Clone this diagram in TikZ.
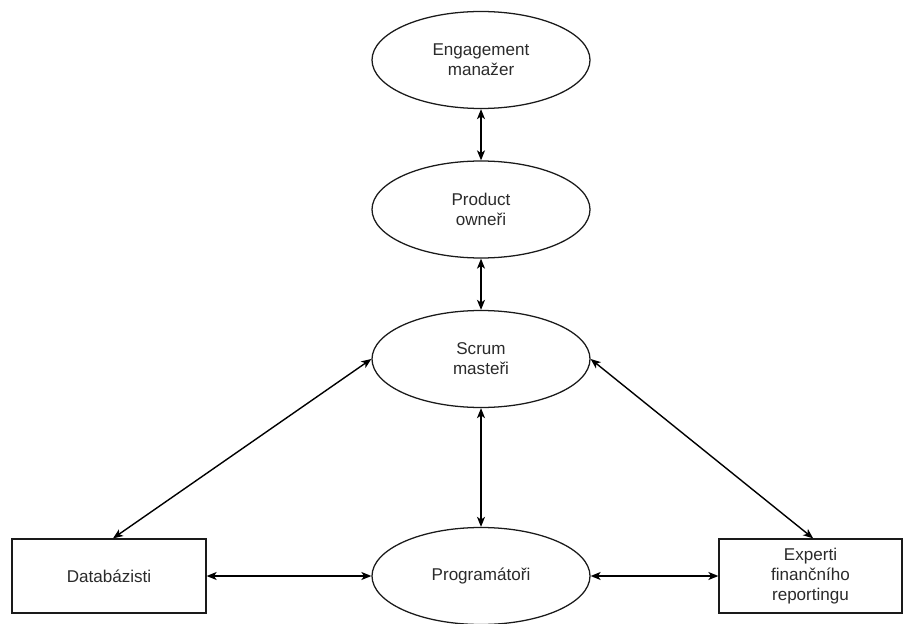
\documentclass[tikz,border=0pt]{standalone}
\usepackage{fontspec}
\setmainfont{Liberation Sans}
\usetikzlibrary{shapes.geometric,arrows.meta}
\definecolor{inkline}{HTML}{1A1A1A}
\definecolor{inktext}{HTML}{2B2B2B}
\tikzset{
  role/.style={ellipse,draw=inkline,line width=0.95pt,minimum width=163.5pt,minimum height=72.75pt,
    inner sep=0pt,align=center,text=inktext,font=\fontsize{12.8pt}{15pt}\selectfont},
  team/.style={rectangle,draw=inkline,line width=0.95pt,inner sep=0pt,align=center,
    text=inktext,font=\fontsize{12.8pt}{15pt}\selectfont},
  link/.style={line width=1.05pt,draw=black,
    {Stealth[length=7.5pt,width=6pt,inset=2pt]}-{Stealth[length=7.5pt,width=6pt,inset=2pt]}}
}
\begin{document}
\begin{tikzpicture}[x=0.75pt,y=-0.75pt]
  \useasboundingbox (0,0) rectangle (903,624);
  \fill[white] (0,0) rectangle (903,624);
  \begin{scope}
    \clip (0,0) rectangle (903,624);
    \node[role] (em) at (481,60)    {Engagement\\manažer};
    \node[role] (po) at (481,209.5) {Product\\owneři};
    \node[role] (sm) at (481,359)   {Scrum\\masteři};
    \node[role] (pg) at (481,576)   {Programátoři};
    \node[team,minimum width=145.5pt,minimum height=55.5pt] (db) at (109,576) {Databázisti};
    \node[team,minimum width=137.25pt,minimum height=55.5pt] (ex) at (810.5,576) {Experti\\finančního\\reportingu};

    \draw[link] (em.south) -- (po.north);
    \draw[link] (po.south) -- (sm.north);
    \draw[link] (sm.south) -- (pg.north);
    \draw[link] (sm.west) -- ([xshift=3pt]db.north);
    \draw[link] (sm.east) -- ([xshift=2pt]ex.north);
    \draw[link] (db.east) -- (pg.west);
    \draw[link] (pg.east) -- (ex.west);
  \end{scope}
\end{tikzpicture}
\end{document}
